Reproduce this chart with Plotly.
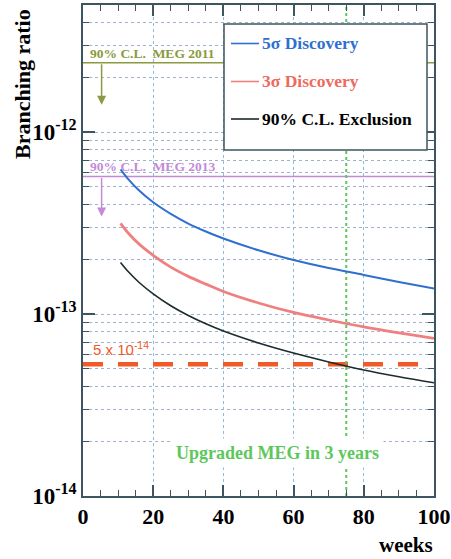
import numpy as np
import plotly.graph_objects as go

# ---- data ----
weeks = [10.7, 13, 16, 20, 25, 30, 35, 40, 50, 60, 70, 80, 90, 100]
disc5 = [6.24e-13, 5.48e-13, 4.77e-13, 4.11e-13, 3.55e-13, 3.14e-13, 2.84e-13,
         2.60e-13, 2.24e-13, 1.98e-13, 1.79e-13, 1.64e-13, 1.50e-13, 1.38e-13]
disc3 = [3.15e-13, 2.77e-13, 2.42e-13, 2.10e-13, 1.81e-13, 1.61e-13, 1.46e-13,
         1.33e-13, 1.15e-13, 1.02e-13, 9.27e-14, 8.49e-14, 7.87e-14, 7.34e-14]
excl90 = [1.92e-13, 1.70e-13, 1.49e-13, 1.29e-13, 1.11e-13, 9.81e-14, 8.83e-14,
          8.06e-14, 6.93e-14, 6.10e-14, 5.45e-14, 4.92e-14, 4.52e-14, 4.19e-14]

meg2011 = 2.4e-12
meg2013 = 5.7e-13
target = 5.3e-14
upgrade_week = 75

x_ticks = [0, 20, 40, 60, 80, 100]
y_major = [1e-14, 1e-13, 1e-12]
y_major_text = ["10<sup>-14</sup>", "10<sup>-13</sup>", "10<sup>-12</sup>"]
y_minor = [m * d for d in [1e-14, 1e-13, 1e-12] for m in range(2, 10) if m * d < 5.1e-12]

# ---- styling ----
SERIF = "Liberation Serif"
FRAME = "#3c5560"
BLUE = "#2f6fd0"
RED = "#f08080"
RED_TXT = "#ee6a5e"
BLACK = "#1c2b2b"
OLIVE = "#8a9a40"
PURPLE = "#c48ad8"
ORANGE = "#f05a28"
GREEN = "#5cc85c"

fig = go.Figure()

# reference limits
fig.add_trace(go.Scatter(x=[0, 100], y=[meg2011, meg2011], mode="lines",
                         line=dict(color=OLIVE, width=1.5), showlegend=False, hoverinfo="skip"))
fig.add_trace(go.Scatter(x=[0, 100], y=[meg2013, meg2013], mode="lines",
                         line=dict(color=PURPLE, width=1.5), showlegend=False, hoverinfo="skip"))
fig.add_trace(go.Scatter(x=[0, 97.4], y=[target, target], mode="lines",
                         line=dict(color=ORANGE, width=4.5, dash="20px,15px"),
                         showlegend=False, hoverinfo="skip"))
fig.add_trace(go.Scatter(x=[upgrade_week, upgrade_week], y=[1e-14, 5.2e-12], mode="lines",
                         line=dict(color=GREEN, width=2, dash="dot"),
                         showlegend=False, hoverinfo="skip"))

# sensitivity curves
fig.add_trace(go.Scatter(x=weeks, y=disc5, mode="lines", name="5σ Discovery",
                         line=dict(color=BLUE, width=2, shape="spline", smoothing=1.0), showlegend=False))
fig.add_trace(go.Scatter(x=weeks, y=disc3, mode="lines", name="3σ Discovery",
                         line=dict(color=RED, width=2.8, shape="spline", smoothing=1.0), showlegend=False))
fig.add_trace(go.Scatter(x=weeks, y=excl90, mode="lines", name="90% C.L. Exclusion",
                         line=dict(color=BLACK, width=1.6, shape="spline", smoothing=1.0), showlegend=False))

L, R, T, B = 83, 17, 5, 63
W, H = 451, 559
pw, ph = W - L - R, H - T - B

def px(xp):
    return (xp - L) / pw

def py(yp):
    return (H - B - yp) / ph

shapes = []
# legend box
shapes.append(dict(type="rect", xref="paper", yref="paper",
                   x0=px(224), x1=px(427), y0=py(150), y1=py(24),
                   line=dict(color=FRAME, width=1.5), fillcolor="white", layer="above"))
legend_items = [("5σ Discovery", BLUE, BLUE, 43.5), ("3σ Discovery", RED, RED_TXT, 81.5),
                ("90% C.L. Exclusion", BLACK, "black", 119)]
annotations = []
for name, lc, tc, yy in legend_items:
    shapes.append(dict(type="line", xref="paper", yref="paper",
                       x0=px(231), x1=px(259), y0=py(yy), y1=py(yy),
                       line=dict(color=lc, width=1.6), layer="above"))
    annotations.append(dict(xref="paper", yref="paper", x=px(260), y=py(yy),
                            text=name, showarrow=False, xanchor="left", yanchor="middle",
                            font=dict(family=SERIF, size=17.5, color=tc, weight="bold")))

# arrows
annotations.append(dict(x=5.3, y=np.log10(1.41e-12), ax=5.3, ay=np.log10(meg2011),
                        axref="x", ayref="y", xref="x", yref="y", text="", showarrow=True,
                        arrowhead=2, arrowsize=1.2, arrowwidth=1.5, arrowcolor=OLIVE))
annotations.append(dict(x=5.3, y=np.log10(3.43e-13), ax=5.3, ay=np.log10(meg2013),
                        axref="x", ayref="y", xref="x", yref="y", text="", showarrow=True,
                        arrowhead=2, arrowsize=1.2, arrowwidth=1.5, arrowcolor=PURPLE))

# labels
annotations.append(dict(x=1.3, y=-11.566, xref="x", yref="y", text="90% C.L.  MEG 2011",
                        showarrow=False, xanchor="left", yanchor="middle",
                        font=dict(family=SERIF, size=13.5, color=OLIVE, weight="bold")))
annotations.append(dict(x=1.3, y=-12.19, xref="x", yref="y", text="90% C.L.  MEG 2013",
                        showarrow=False, xanchor="left", yanchor="middle",
                        font=dict(family=SERIF, size=13.5, color=PURPLE, weight="bold")))
annotations.append(dict(x=2.4, y=-13.19, xref="x", yref="y", text="5 x 10<sup>-14</sup>",
                        showarrow=False, xanchor="left", yanchor="middle",
                        font=dict(family="Liberation Sans", size=15, color=ORANGE)))
annotations.append(dict(x=55.3, y=-13.764, xref="x", yref="y", text="Upgraded MEG in 3 years",
                        showarrow=False, xanchor="center", yanchor="middle", bgcolor="white",
                        borderpad=4,
                        font=dict(family=SERIF, size=18, color=GREEN, weight="bold")))
annotations.append(dict(xref="paper", yref="paper", x=px(22), y=py(84), text="Branching ratio",
                        textangle=-90, showarrow=False, xanchor="center", yanchor="middle",
                        font=dict(family=SERIF, size=22, color="black", weight="bold")))
annotations.append(dict(xref="paper", yref="paper", x=px(406), y=py(545), text="weeks",
                        showarrow=False, xanchor="center", yanchor="middle",
                        font=dict(family=SERIF, size=21, color="black", weight="bold")))

fig.update_layout(
    width=W, height=H,
    margin=dict(l=L, r=R, t=T, b=B, autoexpand=False),
    paper_bgcolor="white", plot_bgcolor="white",
    shapes=shapes, annotations=annotations,
    showlegend=False,
)
fig.update_xaxes(
    automargin=False,
    range=[0, 100], tickvals=x_ticks, ticks="inside", ticklen=11, tickwidth=1.5,
    tickcolor=FRAME, showline=True, linecolor=FRAME, linewidth=1.5, mirror="ticks",
    showgrid=True, gridcolor="#8cbde0", griddash="dot", gridwidth=1, zeroline=False,
    tickfont=dict(family=SERIF, size=22, color="black", weight="bold"),
    minor=dict(tickvals=[v for v in range(5, 100, 5) if v % 20], ticks="inside", ticklen=6,
               tickwidth=1.2, tickcolor=FRAME, showgrid=False),
)
fig.update_yaxes(
    automargin=False,
    type="log", range=[-14, -11.302], tickvals=y_major, ticktext=y_major_text,
    ticks="inside", ticklen=12, tickwidth=1.5, tickcolor=FRAME,
    showline=True, linecolor=FRAME, linewidth=1.5, mirror="ticks",
    showgrid=True, gridcolor="#9fb4cc", griddash="dot", gridwidth=1, zeroline=False,
    tickfont=dict(family=SERIF, size=23, color="black", weight="bold"),
    minor=dict(tickvals=y_minor, ticks="inside", ticklen=6, tickwidth=1.2, tickcolor=FRAME,
               showgrid=True, gridcolor="#9fb4cc", griddash="dot", gridwidth=1),
)

fig.write_html("out.html", config={"displayModeBar": False},
               post_script="document.body.style.margin='0px';document.body.style.overflow='hidden';")
